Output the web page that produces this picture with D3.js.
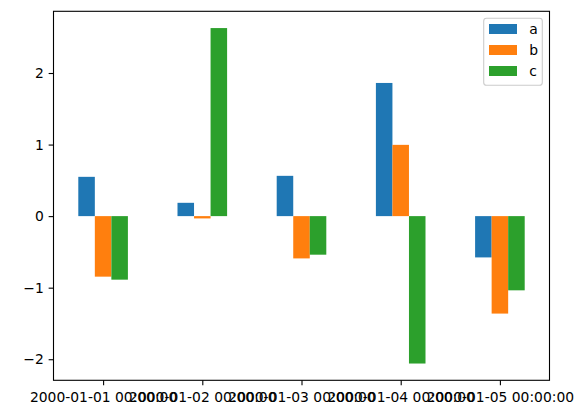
<!DOCTYPE html>
<html>
<head>
<meta charset="utf-8">
<script src="https://cdn.jsdelivr.net/npm/d3@7"></script>
<style>
  html, body { margin: 0; padding: 0; background: #fff; }
  svg text { font-family: "DejaVu Sans", sans-serif; }
</style>
</head>
<body>
<svg id="chart" width="583" height="416"></svg>
<script>
const categories = ["2000-01-01 00:00:00", "2000-01-02 00:00:00", "2000-01-03 00:00:00", "2000-01-04 00:00:00", "2000-01-05 00:00:00"];
const seriesNames = ["a", "b", "c"];
const seriesA = [0.549, 0.186, 0.563, 1.861, -0.577];
const seriesB = [-0.846, -0.032, -0.591, 0.996, -1.362];
const seriesC = [-0.888, 2.628, -0.539, -2.060, -1.037];
const colors = ["#1f77b4", "#ff7f0e", "#2ca02c"];
const yTicks = [-2, -1, 0, 1, 2];

(function () {
const series = [seriesA, seriesB, seriesC];
const svg = d3.select("#chart");
const mLeft = 53.5, mRight = 549.5, mTop = 11.3, mBottom = 380.3;
const fs = 13.89;

const allVals = series.flat();
const mn = d3.min(allVals), mx = d3.max(allVals);
const pad = (mx - mn) * 0.05;
const y = d3.scaleLinear().domain([mn - pad, mx + pad]).range([mBottom, mTop]);
const x = d3.scaleLinear().domain([-0.5, categories.length - 0.5]).range([mLeft, mRight]);
const barW = 0.5 / series.length;

// bars
series.forEach((vals, j) => {
  svg.append("g").selectAll("rect").data(vals).join("rect")
    .attr("x", (d, i) => x(i + (j - 1) * barW - barW / 2))
    .attr("width", x(barW) - x(0))
    .attr("y", d => y(Math.max(0, d)))
    .attr("height", d => Math.abs(y(d) - y(0)))
    .attr("fill", colors[j]);
});

// axes
const tick = 4.86;
const xAxis = d3.axisBottom(x).tickValues(d3.range(categories.length))
  .tickFormat(i => categories[i]).tickSize(tick).tickPadding(tick);
const gx = svg.append("g").attr("transform", `translate(0,${mBottom})`).call(xAxis);
gx.select(".domain").remove();
gx.selectAll("line").attr("stroke", "#000").attr("stroke-width", 1.1);
gx.selectAll("text").attr("font-size", fs).attr("fill", "#000").attr("dy", "0.83em")
  .attr("font-family", "DejaVu Sans");

const yAxis = d3.axisLeft(y).tickValues(yTicks)
  .tickFormat(d => d < 0 ? "\u2212" + Math.abs(d) : String(d)).tickSize(tick).tickPadding(tick);
const gy = svg.append("g").attr("transform", `translate(${mLeft},0)`).call(yAxis);
gy.select(".domain").remove();
gy.selectAll("line").attr("stroke", "#000").attr("stroke-width", 1.1);
gy.selectAll("text").attr("font-size", fs).attr("fill", "#000")
  .attr("font-family", "DejaVu Sans");

// frame
svg.append("rect").attr("x", mLeft).attr("y", mTop)
  .attr("width", mRight - mLeft).attr("height", mBottom - mTop)
  .attr("fill", "none").attr("stroke", "#000").attr("stroke-width", 1.1);

// legend
const lg = svg.append("g");
lg.append("rect").attr("x", 483.7).attr("y", 18.3).attr("width", 58.6).attr("height", 67)
  .attr("rx", 2.8).attr("fill", "#fff").attr("fill-opacity", 0.8)
  .attr("stroke", "#cccccc").attr("stroke-width", 1.1);
seriesNames.forEach((name, j) => {
  const cy = 29 + j * 21;
  lg.append("rect").attr("x", 489).attr("y", cy - 5).attr("width", 28).attr("height", 10)
    .attr("fill", colors[j]);
  lg.append("text").attr("x", 529.3).attr("y", cy).attr("dy", "0.35em")
    .attr("font-size", fs).attr("fill", "#000").text(name);
});
})();
</script>
</body>
</html>
